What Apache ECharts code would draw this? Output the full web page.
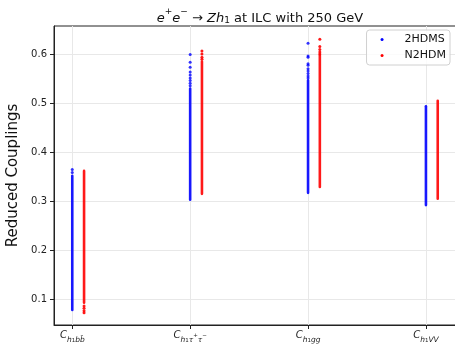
<!DOCTYPE html>
<html><head><meta charset="utf-8">
<script src="https://cdn.jsdelivr.net/npm/echarts@6/dist/echarts.min.js"></script>
<style>html,body{margin:0;padding:0;background:#fff}#c{width:455px;height:345px}</style>
</head><body><div id="c"></div>
<script>
// Categories (x positions 0..3)
const categories = ['bb', 'tautau', 'gg', 'VV'];
const xTickLabels = [
  '{c|C}{s|h}{ss|1}{s|bb\u0304}',
  '{c|C}{s|h}{ss|1}{s|\u03c4}{sp|+}{s|\u03c4}{sp|\u2212}',
  '{c|C}{s|h}{ss|1}{s|gg}',
  '{c|C}{s|h}{ss|1}{s|VV}'
];
const yTicks = [0.1, 0.2, 0.3, 0.4, 0.5, 0.6];

// 2HDMS: dense strip low/high per category, plus sparse points [category, value]
const hdmsLow  = [0.077, 0.302, 0.316, 0.291];
const hdmsHigh = [0.352, 0.530, 0.547, 0.494];
const hdmsSparse = [
  [0, 0.358], [0, 0.364],
  [1, 0.599], [1, 0.583], [1, 0.573], [1, 0.563], [1, 0.557], [1, 0.551], [1, 0.546], [1, 0.540], [1, 0.535],
  [2, 0.622], [2, 0.596], [2, 0.593], [2, 0.580], [2, 0.577], [2, 0.570], [2, 0.565], [2, 0.560], [2, 0.555], [2, 0.551]
];
// N2HDM
const n2hdmLow  = [0.092, 0.314, 0.328, 0.304];
const n2hdmHigh = [0.362, 0.585, 0.598, 0.505];
const n2hdmSparse = [
  [0, 0.086], [0, 0.081], [0, 0.076], [0, 0.072],
  [1, 0.606], [1, 0.600], [1, 0.593], [1, 0.589],
  [2, 0.630], [2, 0.615], [2, 0.609], [2, 0.604], [2, 0.600]
];

const BLUE = '#0000ff', RED = '#ff0000';
const OFFSET_RED = 0.1;

function strip(color, off) {
  return function (params, api) {
    const x = api.value(0) + off;
    const top = api.coord([x, api.value(2)]);
    const bot = api.coord([x, api.value(1)]);
    return {
      type: 'rect',
      shape: { x: top[0] - 1.3, y: top[1] - 1, width: 2.6, height: bot[1] - top[1] + 2, r: 1.3 },
      style: { fill: color, opacity: 0.9 }
    };
  };
}

const chart = echarts.init(document.getElementById('c'), null, { renderer: 'canvas' });
const FONT = 'DejaVu Sans';
chart.setOption({
  animation: false,
  textStyle: { fontFamily: FONT },
  title: {
    text: '{i|e}{sp|+}{i|e}{sp|\u2212}{n| \u2192 }{i|Zh}{sb|1}{n| at ILC with 250 GeV}',
    left: 255, top: 2, textAlign: 'center',
    textStyle: {
      fontWeight: 'normal',
      rich: {
        i: { fontFamily: FONT, fontSize: 13, fontWeight: 'normal', fontStyle: 'italic', color: '#111', verticalAlign: 'bottom', lineHeight: 18 },
        n: { fontFamily: FONT, fontSize: 13, fontWeight: 'normal', color: '#111', verticalAlign: 'bottom', lineHeight: 18 },
        sp: { fontFamily: FONT, fontSize: 9, fontWeight: 'normal', color: '#111', verticalAlign: 'top', lineHeight: 12 },
        sb: { fontFamily: FONT, fontSize: 9, fontWeight: 'normal', color: '#111', verticalAlign: 'bottom', lineHeight: 10 }
      }
    }
  },
  legend: {
    orient: 'vertical', right: 5, top: 30,
    data: [{ name: '2HDMS', icon: 'circle' }, { name: 'N2HDM', icon: 'circle' }],
    itemWidth: 3, itemHeight: 3, itemGap: 5,
    padding: [4, 4, 4, 14],
    backgroundColor: 'rgba(255,255,255,0.8)', borderColor: '#d0d0d0', borderWidth: 1, borderRadius: 3,
    textStyle: { fontFamily: FONT, fontSize: 11, color: '#111', padding: [0, 0, 0, 16] }
  },
  grid: { left: 54, top: 26, width: 402, height: 299, outerBoundsMode: 'none', containLabel: false, show: true, borderColor: '#222', borderWidth: 1, backgroundColor: 'transparent' },
  xAxis: {
    type: 'value', min: -0.155, max: 3.255,
    axisLine: { onZero: false, lineStyle: { color: '#222' } },
    axisTick: { customValues: [0, 1, 2, 3], length: 4, lineStyle: { color: '#222' } },
    axisLabel: {
      customValues: [0, 1, 2, 3], margin: 5,
      formatter: v => xTickLabels[Math.round(v)],
      rich: {
        c: { fontFamily: FONT, fontSize: 10, fontStyle: 'italic', color: '#222', verticalAlign: 'top', lineHeight: 14 },
        s: { fontFamily: FONT, fontSize: 7.5, fontStyle: 'italic', color: '#222', verticalAlign: 'bottom', lineHeight: 8 },
        ss: { fontFamily: FONT, fontSize: 5.5, color: '#222', verticalAlign: 'bottom', lineHeight: 5 },
        sp: { fontFamily: FONT, fontSize: 5.5, color: '#222', verticalAlign: 'top', lineHeight: 6, padding: [3, 0, 0, 0] }
      }
    },
    splitLine: { show: true, lineStyle: { color: '#e8e8e8' } }
  },
  yAxis: {
    type: 'value', min: 0.047, max: 0.657,
    name: 'Reduced Couplings', nameLocation: 'middle', nameGap: 32, nameRotate: 90,
    nameTextStyle: { fontFamily: FONT, fontSize: 15, color: '#111' },
    axisLine: { show: true, onZero: false, lineStyle: { color: '#222' } },
    axisTick: { show: true, customValues: yTicks, length: 4, lineStyle: { color: '#222' } },
    axisLabel: { customValues: yTicks, fontFamily: FONT, fontSize: 10, color: '#222', margin: 7, formatter: v => v.toFixed(1) },
    splitLine: { show: true, lineStyle: { color: '#e8e8e8' } }
  },
  series: [
    {
      name: '2HDMS', type: 'custom', renderItem: strip(BLUE, 0),
      data: categories.map((c, i) => [i, hdmsLow[i], hdmsHigh[i]]),
      encode: { x: 0, y: [1, 2] }, itemStyle: { color: BLUE }
    },
    {
      name: 'N2HDM', type: 'custom', renderItem: strip(RED, OFFSET_RED),
      data: categories.map((c, i) => [i, n2hdmLow[i], n2hdmHigh[i]]),
      encode: { x: 0, y: [1, 2] }, itemStyle: { color: RED }
    },
    {
      name: '2HDMS', type: 'scatter', symbolSize: 3,
      data: hdmsSparse.map(p => [p[0], p[1]]),
      itemStyle: { color: BLUE, opacity: 0.8 }
    },
    {
      name: 'N2HDM', type: 'scatter', symbolSize: 3,
      data: n2hdmSparse.map(p => [p[0] + OFFSET_RED, p[1]]),
      itemStyle: { color: RED, opacity: 0.9 }
    }
  ]
});
</script></body></html>
